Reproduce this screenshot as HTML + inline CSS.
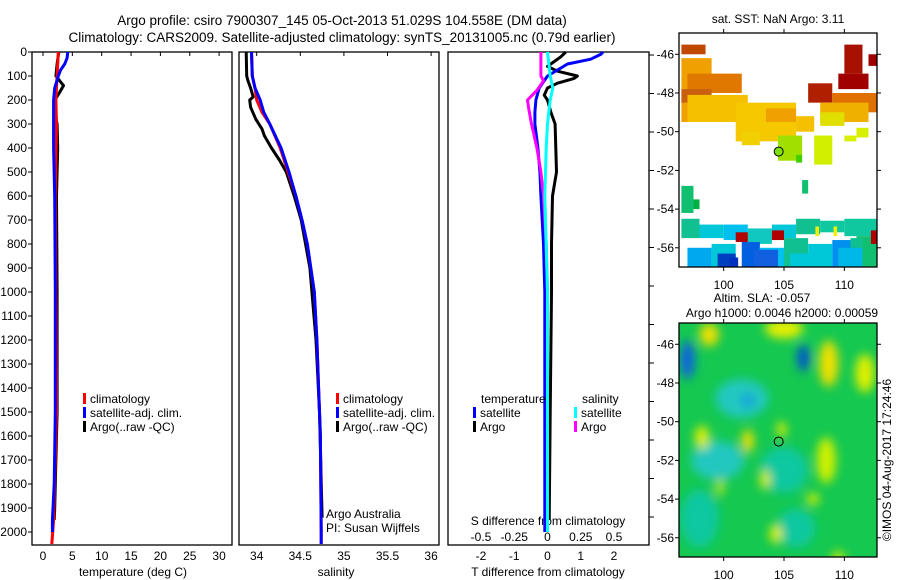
<!DOCTYPE html>
<html><head><meta charset="utf-8"><style>
html,body{margin:0;padding:0;background:#fff;}
svg{display:block;font-family:"Liberation Sans",sans-serif;}
</style></head><body>
<svg id="c" width="900" height="580" viewBox="0 0 900 580" xmlns="http://www.w3.org/2000/svg">
<defs><filter id="blur" x="-50%" y="-50%" width="200%" height="200%"><feGaussianBlur stdDeviation="5"/></filter>
<clipPath id="clipMap2"><rect x="679" y="323" width="198" height="234"/></clipPath>
<clipPath id="clipMap1"><rect x="679" y="33" width="198" height="234"/></clipPath></defs>
<text x="342" y="25" font-size="13.5" text-anchor="middle">Argo profile: csiro 7900307_145 05-Oct-2013 51.029S 104.558E (DM data)</text>
<text x="342" y="42" font-size="13.5" text-anchor="middle">Climatology: CARS2009. Satellite-adjusted climatology: synTS_20131005.nc (0.79d earlier)</text>
</svg>
<script>
// ---- data ----
const depthTicks=[0,100,200,300,400,500,600,700,800,900,1000,1100,1200,1300,1400,1500,1600,1700,1800,1900,2000];
const tempTicks=[0,5,10,15,20,25,30];
const salTicks=[34,34.5,35,35.5,36];
const tdiffTicks=[-2,-1,0,1,2];
const sdiffTicks=[-0.5,-0.25,0,0.25,0.5];
const latTicks=[-46,-48,-50,-52,-54,-56];
const lonTicks=[100,105,110];

const climTDepth=[0,100,200,300,600,1000,1500,1950,2050];
const climT=[2.6,2.4,2.2,2.3,2.1,2.2,2.3,1.8,1.5];
const satTDepth=[0,25,50,75,100,150,200,400,600,1000,1500,1800,1950,2000];
const satT=[4.2,4.1,3.7,3.0,2.6,2.0,1.8,1.8,2.0,2.1,2.1,1.9,1.6,1.6];
const argoTDepth=[0,50,100,140,170,200,250,300,400,600,1000,1500,1700,1900,1950];
const argoT=[2.7,2.4,2.2,3.5,2.8,2.0,2.0,2.4,2.5,2.3,2.4,2.4,2.2,2.0,1.9];

const salDepth=[0,100,150,200,250,300,400,500,600,700,800,900,1000,1200,1400,1600,2000,2050];
const climS=[33.94,33.95,33.98,34.00,34.06,34.15,34.27,34.36,34.45,34.52,34.58,34.62,34.66,34.69,34.71,34.73,34.74,34.74];
const satS=[33.94,33.95,33.98,34.04,34.08,34.15,34.28,34.37,34.45,34.52,34.58,34.62,34.66,34.69,34.71,34.73,34.74,34.74];
const argoSDepth=[0,100,120,150,187,200,230,280,320,350,400,450,500,600,700,900,1200,1500,1940];
const argoS=[33.88,33.885,33.9,33.93,33.96,33.92,33.93,33.99,34.06,34.09,34.17,34.26,34.34,34.43,34.51,34.61,34.68,34.72,34.75];

const satTdDepth=[0,10,30,50,75,100,150,200,250,300,400,500,600,800,1000,1500,2000];
const satTd=[1.67,1.6,1.3,0.6,0.3,0.0,-0.25,-0.35,-0.38,-0.38,-0.29,-0.23,-0.2,-0.12,-0.08,-0.08,-0.08];
const argoTdDepth=[0,20,40,60,80,100,110,130,150,180,200,250,300,400,500,600,800,1000,1500,1950];
const argoTd=[0.55,0.4,0.2,0.0,0.3,0.9,0.8,0.3,0.0,-0.1,0.0,0.1,0.23,0.25,0.27,0.15,0.12,0.12,0.08,0.05];
const satSdDepth=[0,100,150,200,300,400,600,1000,2000];
const satSd=[0.0,0.02,0.04,0.02,0.0,-0.01,-0.02,0.0,0.0];
const argoSdDepth=[0,100,120,160,200,240,300,400,500,600,800,1000,2000];
const argoSd=[-0.05,-0.05,-0.03,-0.08,-0.15,-0.14,-0.12,-0.08,-0.05,-0.03,-0.01,0.0,0.0];

// SST patches: lon0, lon1, lat0, lat1, colour
const sstLon0=[96.5,96.5,97,96.5,97,101,103.5,101.5,106,107,109,108,108,110,109.5,112,104.5,106,107.5,111,110,106.5,96.5,97.5,96.5,98,100,102,104,106,108,110,97,99,101.5,103,105,107,109,111,99.5,102.5,105.5,109.5,101,104,110.5,100.5,112.2,107.6,109.1];
const sstLon1=[98.5,99,101.5,99,102,106,106,103,107.5,109,112.7,112,110,111.5,112,112.7,106.5,106.5,109,112,111,107,97.5,98,98,100,102,104,106,108,110,112.7,99,101,103,105,107,109,111,112.7,101,104.5,107.5,111.5,102,105,111.5,101.2,112.7,107.9,109.4];
const sstLat0=[-45.5,-46.2,-47,-47.8,-48.1,-48.5,-48.8,-50,-49.2,-47.5,-48,-48.5,-49,-45.5,-47,-46,-50.2,-51.2,-50.2,-49.8,-50.2,-52.5,-52.8,-53.5,-54.5,-54.8,-54.8,-55,-54.8,-54.5,-54.6,-54.5,-56,-55.8,-55.7,-56,-55.5,-55.8,-55.6,-55.4,-56.3,-56.1,-56.3,-56,-55.2,-55.1,-55.5,-56.5,-55.1,-54.9,-54.9];
const sstLat1=[-46,-49.5,-48,-48.5,-49.5,-50.5,-49.5,-50.7,-50,-48.5,-49,-49.5,-49.7,-47,-47.8,-46.6,-51.5,-51.6,-51.7,-50.3,-50.5,-53.2,-54.2,-54,-55.5,-55.5,-55.6,-55.8,-55.5,-55.3,-55.2,-55.4,-57,-57,-57,-57,-57,-57,-57,-57,-57,-57,-57,-57,-55.7,-55.6,-56,-57,-55.8,-55.4,-55.4];
const sstCol=["#c04800","#f0a000","#e07800","#c86010","#f5c000","#f5c800","#f0a000","#f0d000","#f5c000","#b02000","#e07000","#f0b000","#e0e000","#a81000","#a00000","#a00000","#a0e000","#40d000","#d0f000","#d8f000","#d8f000","#10c070","#10c070","#00b040","#10c090","#00c8d8","#00c0f0","#10c8c0","#00c8d8","#10c090","#10c8a0","#10c8a0","#00a8f0","#00c8d8","#0060e0","#00c0f0","#10c090","#00c8d8","#0090f0","#10c070","#0040c0","#1060e0","#00c8d8","#00b8e8","#b00000","#b00000","#10c090","#0030c0","#b00000","#f0f000","#f0f000"];

// SLA blobs: lon, lat, rx(deg), ry(deg), colour
const slaLon=[101.5,99.5,105,98,106,97,106.6,98.8,105,108.7,111.7,98.2,102,104.8,108.5,103.4,107.4,104.3,99.7,102,109.5];
const slaLat=[-48.8,-52,-52.5,-55,-55.5,-46.8,-46.7,-45.5,-45.2,-47,-47.5,-50.8,-51,-50.4,-52,-53,-54,-55.8,-53.4,-48.9,-57];
const slaRx=[2.2,2.2,2,1.6,1.6,0.6,0.5,0.8,1.6,0.8,0.8,0.6,0.5,0.4,0.8,0.4,0.5,0.5,0.3,0.5,0.5];
const slaRy=[1,1,1.2,1.5,1,1,0.7,0.6,0.5,1.2,1,0.6,0.6,0.4,1.2,0.5,0.3,0.5,0.4,0.3,0.3];
const slaCol=["#20c8c0","#20c8c0","#10c8a0","#10c8a0","#10c8a0","#1060e0","#0050d0","#f0e000","#e8f000","#f0e000","#e0f000","#e0f000","#f0e000","#e0f000","#d0f000","#e0f000","#e0f000","#e0f000","#e0f000","#1090e0","#e0f000"];

const argoLon=104.558, argoLat=-51.029;

// ---- helpers ----
const S=document.getElementById('c');
const NS='http://www.w3.org/2000/svg';
function mk(tag,attrs,parent){const e=document.createElementNS(NS,tag);for(const k in attrs)e.setAttribute(k,attrs[k]);(parent||S).appendChild(e);return e;}
function txt(x,y,s,size,anchor,parent){const e=mk('text',{x:x,y:y,'font-size':size||12,'text-anchor':anchor||'start'},parent);e.textContent=s;return e;}
const Y=d=>52+d*0.24;
const xT=v=>43+v*5.87;
const xS=v=>256.7+(v-34)*87.2;
const xTd=v=>547.5+v*33.25;
const xSd=v=>547.5+v*133;
function line(depths,vals,fx,color,name,w){
  const pts=depths.map((d,i)=>fx(vals[i]).toFixed(1)+','+Y(d).toFixed(1)).join(' ');
  const p=mk('polyline',{points:pts,fill:'none',stroke:color,'stroke-width':w||3,'stroke-linejoin':'round'});
  
  
}
function legendBar(x,y,color,label){
  const r=mk('rect',{x:x,y:y-10,width:3,height:11,fill:color});
  
  
  const t=txt(x+7,y,label,12);
  
  
}

// ---- panel frames ----
const panels=[[32,232],[239,439],[448,649]];
panels.forEach((p,i)=>{
  const r=mk('rect',{x:p[0],y:52,width:p[1]-p[0],height:493,fill:'none',stroke:'#000','stroke-width':1.3});
  
  
});
depthTicks.forEach(d=>{
  mk('line',{x1:28,x2:32,y1:Y(d),y2:Y(d),stroke:'#000'});
  const t=txt(27,Y(d)+4,String(d),12,'end');
  
  
});
for(let yy=55;yy<546;yy+=38.5){mk('line',{x1:649,x2:654,y1:yy,y2:yy,stroke:'#000'});}
tempTicks.forEach(v=>{
  mk('line',{x1:xT(v),x2:xT(v),y1:52,y2:56,stroke:'#000'});
  const t=txt(xT(v),560,String(v),12,'middle');
  
  
});
let t1=txt(133,576,'temperature (deg C)',12,'middle');
salTicks.forEach(v=>{
  mk('line',{x1:xS(v),x2:xS(v),y1:52,y2:56,stroke:'#000'});
  const t=txt(xS(v),560,String(v),12,'middle');
  
  
});
let t2=txt(336,576,'salinity',12,'middle');
tdiffTicks.forEach(v=>{
  const t=txt(xTd(v),560,String(v),12,'middle');
  
  
});
sdiffTicks.forEach(v=>{
  const t=txt(xSd(v),541,String(v),12,'middle');
  
  
});
let t3=txt(548,576,'T difference from climatology',12,'middle');
let t4=txt(548,525,'S difference from climatology',12,'middle');

// ---- series ----
line(argoTDepth,argoT,xT,'#000','argo-temperature-line');
line(climTDepth,climT,xT,'#f00','clim-temperature-line');
line(satTDepth,satT,xT,'#00f','satellite-temperature-line');
line(argoSDepth,argoS,xS,'#000','argo-salinity-line');
line(salDepth,climS,xS,'#f00','clim-salinity-line');
line(salDepth,satS,xS,'#00f','satellite-salinity-line');
line(argoTdDepth,argoTd,xTd,'#000','argo-tdiff-line');
line(satTdDepth,satTd,xTd,'#00f','satellite-tdiff-line');
line(argoSdDepth,argoSd,xSd,'#f0f','argo-sdiff-line');
line(satSdDepth,satSd,xSd,'#0ff','satellite-sdiff-line');

// ---- legends ----
legendBar(83,403,'#f00','climatology');
legendBar(83,417,'#00f','satellite-adj. clim.');
legendBar(83,431,'#000','Argo(..raw -QC)');
legendBar(336,403,'#f00','climatology');
legendBar(336,417,'#00f','satellite-adj. clim.');
legendBar(336,431,'#000','Argo(..raw -QC)');
let la=txt(326,518,'Argo Australia',12);
let lb=txt(326,532,'PI: Susan Wijffels',12);
let lt=txt(481,403,'temperature',12);
let ls=txt(582,403,'salinity',12);
legendBar(473,417,'#00f','satellite');
legendBar(473,431,'#000','Argo');
legendBar(574,417,'#0ff','satellite');
legendBar(574,431,'#f0f','Argo');

// ---- maps ----
function mapAxes(top){
  const mx=lon=>679+(lon-96.3)*12.07;
  const my=lat=>top+(-44.9-lat)*19.35;
  return {mx,my};
}
const m1=mapAxes(33);
const g1=mk('g',{'clip-path':'url(#clipMap1)'});


sstLon0.forEach((l0,i)=>{
  const x0=m1.mx(l0),x1=m1.mx(sstLon1[i]),y0=m1.my(sstLat0[i]),y1=m1.my(sstLat1[i]);
  const r=mk('rect',{x:x0,y:y0,width:x1-x0,height:y1-y0,fill:sstCol[i]},g1);
  
  
});
let c1=mk('circle',{cx:m1.mx(argoLon),cy:m1.my(argoLat),r:4.5,fill:'#80e010',stroke:'#000','stroke-width':1});

const m2=mapAxes(323);
const g2=mk('g',{'clip-path':'url(#clipMap2)'});


mk('rect',{x:679,y:323,width:198,height:234,fill:'#14c850'},g2);
const gb=mk('g',{filter:'url(#blur)'},g2);
slaLon.forEach((l,i)=>{
  const e=mk('ellipse',{cx:m2.mx(l),cy:m2.my(slaLat[i]),rx:slaRx[i]*12.07,ry:slaRy[i]*19.35,fill:slaCol[i]},gb);
  
  
});
let c2=mk('circle',{cx:m2.mx(argoLon),cy:m2.my(argoLat),r:4.5,fill:'none',stroke:'#000','stroke-width':1});


[[33,m1,'sst-map'],[323,m2,'sla-map']].forEach(([top,m,nm])=>{
  const r=mk('rect',{x:679,y:top,width:198,height:234,fill:'none',stroke:'#000','stroke-width':1.3});
  
  
  latTicks.forEach(l=>{
    const yy=m.my(l);
    mk('line',{x1:675,x2:679,y1:yy,y2:yy,stroke:'#000'});
    mk('line',{x1:877,x2:881,y1:yy,y2:yy,stroke:'#000'});
    const t=txt(674,yy+4,String(l),12,'end');
    
    
  });
  lonTicks.forEach(l=>{
    const xx=m.mx(l);
    mk('line',{x1:xx,x2:xx,y1:top-4,y2:top,stroke:'#000'});
    mk('line',{x1:xx,x2:xx,y1:top+234,y2:top+238,stroke:'#000'});
    const t=txt(xx,top+256,String(l),12,'middle');
    
    
  });
});
let mt1=txt(778,23,'sat. SST: NaN Argo: 3.11',12,'middle');
let mt2=txt(762,302,'Altim. SLA: -0.057',12,'middle');
let mt3=txt(782,317,'Argo h1000: 0.0046 h2000: 0.00059',12,'middle');
let cr=txt(0,0,'©IMOS 04-Aug-2017 17:24:46',12,'middle');
cr.setAttribute('transform','translate(891,460) rotate(-90)');


</script>
</body></html>
